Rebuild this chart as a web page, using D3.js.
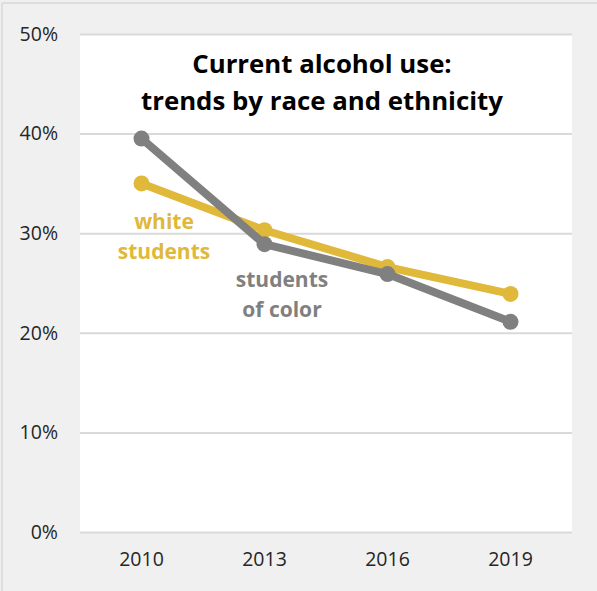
<!DOCTYPE html>
<html><head><meta charset="utf-8">
<script src="https://cdn.jsdelivr.net/npm/d3@7"></script>
<style>body{margin:0;background:#f0f0f0;}svg{display:block;}</style>
</head><body>
<svg id="c" width="597" height="591"></svg>
<script>
const years = ["2010","2013","2016","2019"];
const whiteStudents = [35.0, 30.3, 26.6, 23.9];
const studentsOfColor = [39.5, 28.9, 25.9, 21.1];
const yTicks = [0,10,20,30,40,50];
const titleLines = ["Current alcohol use:", "trends by race and ethnicity"];

const svg = d3.select("#c");
const font = "'Open Sans', sans-serif";
svg.append("rect").attr("width",597).attr("height",591).attr("fill","#f0f0f0");
svg.append("line").attr("x1",2).attr("x2",597).attr("y1",3).attr("y2",3).attr("stroke","#d9d9d9").attr("stroke-width",1.5);
svg.append("line").attr("x1",2).attr("x2",2).attr("y1",3).attr("y2",591).attr("stroke","#d9d9d9").attr("stroke-width",1.5);

const L=80, R=572, T=34, B=532;
svg.append("rect").attr("x",L).attr("y",T).attr("width",R-L).attr("height",B-T).attr("fill","#fff");

const x = d3.scaleBand().domain(years).range([L,R]);
const y = d3.scaleLinear().domain([0,50]).range([B,T]);

const yAxis = d3.axisLeft(y).tickValues(yTicks).tickSize(-(R-L)).tickFormat(d=>d+"%").tickPadding(22);
const gy = svg.append("g").attr("transform",`translate(${L},0)`).call(yAxis);
gy.select(".domain").remove();
gy.selectAll(".tick line").attr("stroke","#d9d9d9").attr("stroke-width",2);
gy.selectAll(".tick text").attr("font-family",font).attr("font-size",19.5).attr("fill","#262626");

const xAxis = d3.axisBottom(x).tickSize(0).tickPadding(20);
const gx = svg.append("g").attr("transform",`translate(0,${B})`).call(xAxis);
gx.select(".domain").remove();
gx.selectAll(".tick text").attr("font-family",font).attr("font-size",19.5).attr("fill","#262626");

const cx = d => x(d)+x.bandwidth()/2;
const line = d3.line().x((d,i)=>cx(years[i])).y(d=>y(d));

function series(vals,color){
  svg.append("path").datum(vals).attr("d",line).attr("fill","none").attr("stroke",color).attr("stroke-width",8).attr("stroke-linejoin","round");
  svg.append("g").selectAll("circle").data(vals).join("circle")
    .attr("cx",(d,i)=>cx(years[i])).attr("cy",d=>y(d)).attr("r",8).attr("fill",color);
}
series(whiteStudents,"#e0b83a");
series(studentsOfColor,"#808080");

const t = svg.append("text").attr("font-family",font).attr("font-size",25.8).attr("font-weight","bold").attr("fill","#000").attr("text-anchor","middle");
titleLines.forEach((s,i)=>t.append("tspan").attr("x",322).attr("y",73+i*37).text(s));

function label(lines,xc,y0,color){
  const tt = svg.append("text").attr("font-family",font).attr("font-size",21).attr("font-weight","bold").attr("fill",color).attr("text-anchor","middle");
  lines.forEach((s,i)=>tt.append("tspan").attr("x",xc).attr("y",y0+i*30).text(s));
}
label(["white","students"],164,229,"#e0b83a");
label(["students","of color"],282,287,"#808080");
</script>
</body></html>
